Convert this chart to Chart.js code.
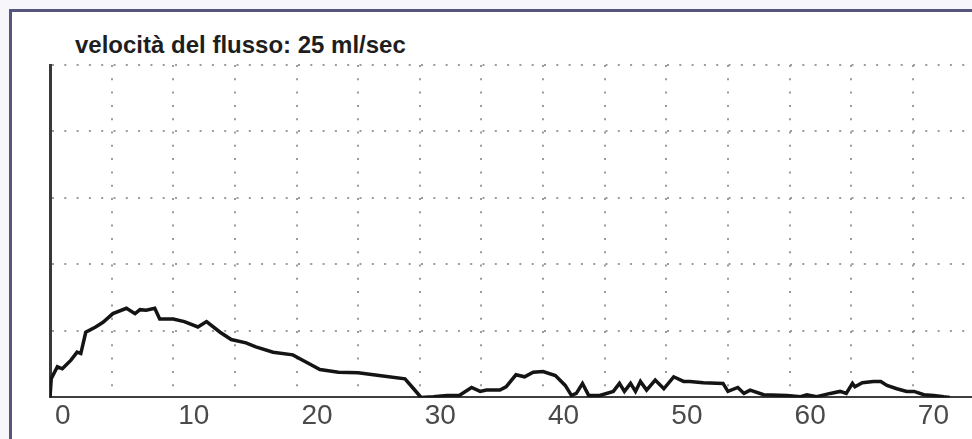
<!DOCTYPE html>
<html lang="it">
<head>
<meta charset="utf-8">
<title>Uroflussometria</title>
<script src="https://cdn.jsdelivr.net/npm/chart.js@4/dist/chart.umd.min.js"></script>
<style>
  html, body { margin: 0; padding: 0; width: 972px; height: 439px; overflow: hidden; background: #f6f6fb; }
  #frame {
    position: absolute; left: 9px; top: 9px; width: 1000px; height: 500px;
    background: #ffffff;
    border-left: 3px solid #55557f; border-top: 3px solid #55557f;
  }
  #titolo {
    position: absolute; left: 75px; top: 33px; margin: 0;
    font: bold 24px "Liberation Sans", Arial, sans-serif; line-height: 24px;
    color: #1e1e1e; white-space: nowrap;
  }
  #grafico { position: absolute; left: 0; top: 0; }
</style>
</head>
<body>
<div id="frame"></div>
<div id="titolo">velocità del flusso: 25 ml/sec</div>
<canvas id="grafico" width="972" height="439"></canvas>
<script>
// Tempo (s) e flusso (ml/s) della registrazione
const tempi = [
  0, 0.1, 0.6, 1.0, 1.7, 2.2, 2.5, 2.9, 3.7, 4.3, 5.1, 6.2, 6.9, 7.3, 7.8, 8.5,
  8.9, 10.0, 10.9, 12.0, 12.7, 13.8, 14.7, 15.9, 16.7, 18.1, 19.7, 20.8, 21.9,
  23.4, 25.0, 26.7, 28.8, 29.5, 30.1, 31.1, 32.2, 33.2, 34.2, 34.9, 35.4, 36.5,
  37.0, 37.8, 38.5, 39.2, 40.0, 41.0, 41.8, 42.3, 42.7, 43.2, 43.7, 44.6, 45.7,
  46.2, 46.6, 47.1, 47.5, 47.9, 48.4, 49.1, 49.8, 50.6, 51.4, 51.9, 53.0, 54.6,
  55.0, 55.8, 56.3, 56.8, 57.9, 59.8, 60.9, 61.4, 62.2, 63.3, 64.1, 64.6, 65.1,
  65.3, 65.9, 66.8, 67.4, 67.9, 68.7, 69.5, 70.1, 70.9, 71.7, 72.5, 73.0
];
const flusso = [
  0, 2.8, 4.6, 4.3, 5.6, 6.8, 6.6, 9.8, 10.6, 11.3, 12.6, 13.4, 12.6, 13.2, 13.1, 13.4,
  11.8, 11.8, 11.4, 10.6, 11.4, 9.8, 8.7, 8.2, 7.6, 6.8, 6.4, 5.3, 4.2,
  3.8, 3.7, 3.3, 2.8, 1.3, 0, 0.1, 0.3, 0.3, 1.5, 0.9, 1.1, 1.1,
  1.6, 3.4, 3.1, 3.8, 3.9, 3.3, 1.8, 0.3, 0.6, 2.1, 0.3, 0.3, 0.9,
  2.1, 0.9, 2.1, 0.9, 2.4, 1.1, 2.6, 1.3, 3.1, 2.4, 2.4, 2.2, 2.1,
  0.9, 1.5, 0.6, 1.1, 0.4, 0.3, 0.1, 0.4, 0.1, 0.6, 0.9, 0.6, 2.1,
  1.6, 2.2, 2.4, 2.4, 1.8, 1.3, 0.9, 0.9, 0.4, 0.3, 0.1, 0
];
// Etichette dell'asse dei tempi
const etichetteTempo = [0, 10, 20, 30, 40, 50, 60, 70];

const punti = tempi.map((t, i) => ({ x: t, y: flusso[i] }));

new Chart(document.getElementById('grafico'), {
  type: 'line',
  data: {
    datasets: [{
      data: punti,
      borderColor: '#141414',
      borderWidth: 3.5,
      pointRadius: 0,
      tension: 0,
      fill: false
    }]
  },
  options: {
    responsive: false,
    animation: false,
    devicePixelRatio: 1,
    layout: { padding: { left: 50, top: 65, right: 0, bottom: 4 } },
    plugins: { legend: { display: false }, title: { display: false }, tooltip: { enabled: false } },
    scales: {
      x: {
        type: 'linear',
        min: 0,
        max: 74.8,
        // una linea della griglia ogni 5 secondi, fino all'ultimo multiplo visibile
        afterBuildTicks: (axis) => {
          const ticks = [];
          for (let v = 0; v <= axis.max + 1e-9; v += 5) ticks.push({ value: v });
          axis.ticks = ticks;
        },
        ticks: {
          autoSkip: false,
          maxRotation: 0,
          align: 'start',
          labelOffset: 5,
          padding: 2,
          color: '#4a4a4a',
          font: { family: '"Liberation Sans", Arial, sans-serif', size: 28 },
          callback: (v) => etichetteTempo.includes(v) ? String(v) : ''
        },
        grid: { color: '#9c9c9c', lineWidth: 2, drawTicks: false },
        border: { display: true, color: '#3e3e3e', width: 2, dash: [2, 11.3] }
      },
      y: {
        min: 0,
        max: 50,
        ticks: { display: false, stepSize: 10 },
        grid: { color: '#9c9c9c', lineWidth: 2, drawTicks: false },
        border: { display: true, color: '#383838', width: 3, dash: [2, 10.3] }
      }
    }
  }
});
</script>
</body>
</html>
